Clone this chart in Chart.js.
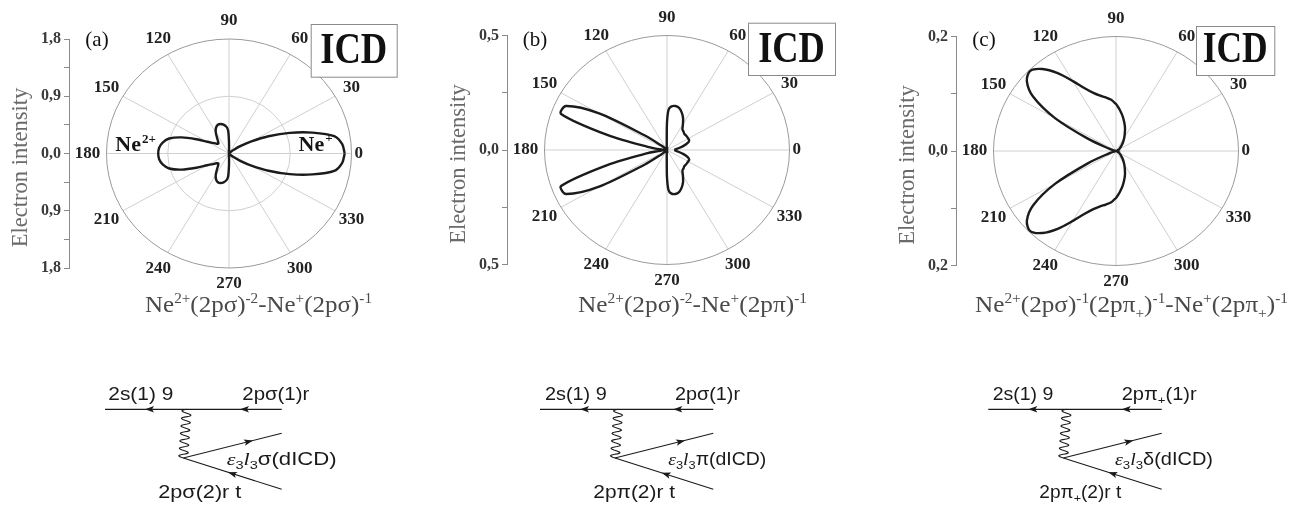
<!DOCTYPE html>
<html>
<head>
<meta charset="utf-8">
<script src="https://cdn.jsdelivr.net/npm/chart.js@4.4.1/dist/chart.umd.min.js"></script>
<style>
  html, body { margin: 0; padding: 0; background: #fff; }
  #wrap { position: relative; width: 1297px; height: 507px; overflow: hidden; background: #fff; }
  #wrap canvas { position: absolute; top: 0; }
  #art { position: absolute; left: 0; top: 0; pointer-events: none; }
</style>
</head>
<body>
<div id="wrap">
  <canvas id="pa" width="410" height="300" style="left:0px"></canvas>
  <canvas id="pb" width="410" height="300" style="left:438px"></canvas>
  <canvas id="pc" width="410" height="300" style="left:887px"></canvas>
  <svg id="art" width="1297" height="507" xmlns="http://www.w3.org/2000/svg"></svg>
</div>
<script>
// Emission angles (degrees) at which the angular distributions are tabulated
const angles = [
  0, 5, 10, 15, 20, 25, 30, 35, 40, 45, 50, 55, 60, 65, 70, 75, 80, 85,
  88, 90, 92,
  95, 100, 105, 110, 115, 120, 125, 130, 135, 140, 145, 150, 155, 160, 165, 170, 175, 180,
  185, 190, 195, 200, 205, 210, 215, 220, 225, 230, 235, 240, 245, 250, 255, 260, 265,
  268, 270, 272,
  275, 280, 285, 290, 295, 300, 305, 310, 315, 320, 325, 330, 335, 340, 345, 350, 355
];

// (a) Ne2+(2pσ)^-2 - Ne+(2pσ)^-1
const intensityA = [
  1.70, 1.67, 1.57, 1.27, 0.95, 0.64, 0.38, 0.20, 0.09, 0.04, 0.02, 0.01, 0, 0, 0, 0, 0, 0,
  0.01, 0.18, 0.36,
  0.42, 0.46, 0.48, 0.48, 0.45, 0.39, 0.31, 0.25, 0.22, 0.24, 0.29, 0.37, 0.53, 0.74, 0.91, 0.99, 1.03, 1.04,
  1.03, 0.99, 0.91, 0.74, 0.53, 0.37, 0.29, 0.24, 0.22, 0.25, 0.31, 0.39, 0.45, 0.48, 0.48, 0.46, 0.42,
  0.36, 0.18, 0.01,
  0, 0, 0, 0, 0, 0, 0.01, 0.02, 0.04, 0.09, 0.20, 0.38, 0.64, 0.95, 1.27, 1.57, 1.67
];

// (b) Ne2+(2pσ)^-2 - Ne+(2pπ)^-1
const intensityB = [
  0.03, 0.035, 0.05, 0.07, 0.09, 0.10, 0.10, 0.10, 0.10, 0.10, 0.105, 0.11, 0.13, 0.155, 0.175, 0.19, 0.195, 0.19,
  0.175, 0.12, 0.03,
  0.01, 0, 0, 0, 0, 0, 0, 0, 0.01, 0.03, 0.11, 0.32, 0.455, 0.46, 0.25, 0.08, 0.02, 0,
  0.02, 0.08, 0.25, 0.46, 0.455, 0.32, 0.11, 0.03, 0.01, 0, 0, 0, 0, 0, 0, 0, 0.01,
  0.03, 0.12, 0.175,
  0.19, 0.195, 0.19, 0.175, 0.155, 0.13, 0.11, 0.105, 0.10, 0.10, 0.10, 0.10, 0.10, 0.09, 0.07, 0.05, 0.035
];

// (c) Ne2+(2pσ)^-1(2pπ+)^-1 - Ne+(2pπ+)^-1
const intensityC = [
  0, 0, 0, 0.001, 0.002, 0.003, 0.005, 0.007, 0.009, 0.012, 0.016, 0.021, 0.027, 0.034, 0.043, 0.052, 0.062, 0.072,
  0.078, 0.082, 0.085,
  0.090, 0.095, 0.100, 0.108, 0.121, 0.141, 0.166, 0.187, 0.198, 0.190, 0.165, 0.115, 0.050, 0.012, 0.002, 0, 0, 0,
  0, 0, 0.002, 0.012, 0.050, 0.115, 0.165, 0.190, 0.198, 0.187, 0.166, 0.141, 0.121, 0.108, 0.100, 0.095, 0.090,
  0.085, 0.082, 0.078,
  0.072, 0.062, 0.052, 0.043, 0.034, 0.027, 0.021, 0.016, 0.012, 0.009, 0.007, 0.005, 0.003, 0.002, 0.001, 0, 0
];

// Axis ranges of the three panels and their tick spacing (labels on every second tick)
const axisMax   = [1.8, 0.5, 0.2];
const tickStep  = [0.45, 0.25, 0.1];
const innerRings = [[0.9], [], []];

// Polar angle tick labels
const angleTicks = [0, 30, 60, 90, 120, 150, 180, 210, 240, 270, 300, 330];

const panelTags = ['(a)', '(b)', '(c)'];
const boxTitle = 'ICD';

const SERIF = '"Liberation Serif", "Times New Roman", serif';
const SANS = '"Liberation Sans", Arial, sans-serif';

// Frame, grid and annotation layout for each panel
const panelLayout = [
  { canvas: 'pa', top: 39,   box: [310.7, 24, 86, 52.7], icdBase: 63.3, icdW: 67, ions: true },
  { canvas: 'pb', top: 35.5, box: [310, 22.7, 87, 52.3], icdBase: 61.7, icdW: 66.7, ions: false },
  { canvas: 'pc', top: 36.5, box: [309, 26, 78.3, 49],   icdBase: 61.7, icdW: 65, ions: false }
];

const CANVAS_H = 300, AXIS_W = 69, PLOT_H = 229, RIGHT_PAD = 58.5, GAP_FRAC = 37.5 / 122.5;

function toXY(rs) {
  const pts = angles.map((a, i) => {
    const t = a * Math.PI / 180;
    return { x: rs[i] * Math.cos(t), y: rs[i] * Math.sin(t) };
  });
  pts.push({ ...pts[0] });
  return pts;
}

const polarFrame = {
  id: 'polarFrame',
  beforeDatasetsDraw(chart, args, o) {
    const { ctx, scales: { x, y } } = chart;
    const cx = x.getPixelForValue(0), cy = y.getPixelForValue(0);
    const rx = x.getPixelForValue(o.limit) - cx, ry = cy - y.getPixelForValue(o.limit);
    ctx.save();
    ctx.lineWidth = 1;
    ctx.strokeStyle = '#cfcfcf';
    angleTicks.forEach(a => {
      const t = a * Math.PI / 180;
      ctx.beginPath();
      ctx.moveTo(cx, cy);
      ctx.lineTo(cx + rx * Math.cos(t), cy - ry * Math.sin(t));
      ctx.stroke();
    });
    o.rings.forEach(v => {
      const k = v / o.limit;
      ctx.beginPath();
      ctx.ellipse(cx, cy, rx * k, ry * k, 0, 0, Math.PI * 2);
      ctx.stroke();
    });
    ctx.strokeStyle = '#9a9a9a';
    ctx.beginPath();
    ctx.ellipse(cx, cy, rx, ry, 0, 0, Math.PI * 2);
    ctx.stroke();
    ctx.restore();
  },
  afterDraw(chart, args, o) {
    const { ctx, scales: { x, y } } = chart;
    const cx = x.getPixelForValue(0), cy = y.getPixelForValue(0);
    const rx = x.getPixelForValue(o.limit) - cx, ry = cy - y.getPixelForValue(o.limit);
    ctx.save();
    // angle labels
    ctx.fillStyle = '#222';
    ctx.font = 'bold 17px ' + SERIF;
    ctx.textBaseline = 'middle';
    angleTicks.forEach(a => {
      const t = a * Math.PI / 180;
      let px, py, align = 'center';
      if (a === 0) { px = cx + rx + 3; py = cy; align = 'left'; }
      else {
        px = cx + (rx + 19) * Math.cos(t);
        py = cy - (ry + 18) * Math.sin(t);
        if (a === 270) py = cy + ry + 16;
      }
      ctx.textAlign = align;
      ctx.fillText(String(a), px, py);
    });
    // panel tag
    ctx.font = '21px ' + SERIF;
    ctx.fillStyle = '#111';
    ctx.textAlign = 'center';
    ctx.fillText(o.tag, 97, 40);
    // axis title
    ctx.save();
    ctx.translate(21.5, cy + 14);
    ctx.rotate(-Math.PI / 2);
    ctx.font = '22.5px ' + SERIF;
    ctx.fillStyle = '#6b6b6b';
    ctx.textAlign = 'center';
    ctx.fillText('Electron intensity', 0, 0);
    ctx.restore();
    // ICD box
    const [bx, by, bw, bh] = o.box;
    ctx.fillStyle = '#fff';
    ctx.fillRect(bx, by, bw, bh);
    ctx.strokeStyle = '#8a8a8a';
    ctx.lineWidth = 1;
    ctx.strokeRect(bx + 0.5, by + 0.5, bw, bh);
    ctx.font = 'bold 45px ' + SERIF;
    ctx.fillStyle = '#111';
    ctx.textBaseline = 'alphabetic';
    const w = ctx.measureText(boxTitle).width;
    ctx.save();
    ctx.translate(bx + bw / 2, o.icdBase);
    ctx.scale(o.icdW / w, 1);
    ctx.textAlign = 'center';
    ctx.fillText(boxTitle, 0, 0);
    ctx.restore();
    // ion labels
    if (o.ions) {
      ctx.fillStyle = '#151515';
      ctx.textAlign = 'left';
      ctx.font = 'bold 22px ' + SERIF;
      let x0 = cx - 113.7;
      ctx.fillText('Ne', x0, cy - 2.6);
      let nw = ctx.measureText('Ne').width;
      ctx.font = 'bold 13px ' + SERIF;
      ctx.fillText('2+', x0 + nw + 1, cy - 10.5);
      x0 = cx + 69.6;
      ctx.font = 'bold 22px ' + SERIF;
      ctx.fillText('Ne', x0, cy - 2.6);
      nw = ctx.measureText('Ne').width;
      ctx.font = 'bold 13px ' + SERIF;
      ctx.fillText('+', x0 + nw + 1, cy - 11.5);
    }
    ctx.restore();
  }
};

const curves = [intensityA, intensityB, intensityC];

panelLayout.forEach((p, i) => {
  const R = axisMax[i], step = tickStep[i];
  new Chart(document.getElementById(p.canvas), {
    type: 'scatter',
    data: {
      datasets: [{
        data: toXY(curves[i]),
        showLine: true,
        borderColor: '#1b1b1b',
        borderWidth: 2.4,
        pointRadius: 0,
        tension: 0.3,
        fill: false
      }]
    },
    options: {
      responsive: false,
      animation: false,
      devicePixelRatio: 1,
      events: [],
      layout: { padding: { top: p.top, bottom: CANVAS_H - p.top - PLOT_H, left: 0, right: RIGHT_PAD } },
      plugins: {
        legend: { display: false },
        tooltip: { enabled: false },
        polarFrame: { limit: R, rings: innerRings[i], tag: panelTags[i], box: p.box, icdBase: p.icdBase, icdW: p.icdW, ions: p.ions }
      },
      scales: {
        x: { type: 'linear', display: false, min: -R * (1 + GAP_FRAC), max: R },
        y: {
          type: 'linear', position: 'left', min: -R, max: R,
          afterFit(axis) { axis.width = AXIS_W; },
          grid: { drawOnChartArea: false, drawTicks: true, tickLength: 5, color: '#8a8a8a' },
          border: { display: true, color: '#8a8a8a', width: 1 },
          ticks: {
            stepSize: step, autoSkip: false, padding: 3,
            color: '#3a3a3a',
            font: { family: SERIF, size: 16, weight: 'bold' },
            callback(v) {
              const k = Math.round(v / step);
              if (k % 2 !== 0) return '';
              return Math.abs(v).toFixed(1).replace('.', ',');
            }
          }
        }
      }
    },
    plugins: [polarFrame]
  });
});

// ---- SVG: channel formulas and the ICD diagrams ----
function rich(src, base, small, up, down) {
  let out = '', shift = 0, m;
  const re = /([\^_*])\{([^}]*)\}|([^\^_*]+)/g;
  while ((m = re.exec(src))) {
    if (m[3] !== undefined) {
      out += `<tspan dy="${-shift}" font-size="${base}">${m[3]}</tspan>`; shift = 0;
    } else if (m[1] === '*') {
      out += `<tspan dy="${-shift}" font-size="${base}" font-style="italic" font-family='${SERIF}'>${m[2]}</tspan>`; shift = 0;
    } else {
      const d = m[1] === '^' ? -up : down;
      out += `<tspan dy="${d - shift}" font-size="${small}">${m[2]}</tspan>`; shift = d;
    }
  }
  return out;
}

const formulas = [
  { x: 145, w: 227, s: 'Ne^{2+}(2pσ)^{-2}-Ne^{+}(2pσ)^{-1}' },
  { x: 578, w: 229, s: 'Ne^{2+}(2pσ)^{-2}-Ne^{+}(2pπ)^{-1}' },
  { x: 975, w: 313, s: 'Ne^{2+}(2pσ)^{-1}(2pπ_{+})^{-1}-Ne^{+}(2pπ_{+})^{-1}' }
];

const diagrams = [
  { x0: 105, x1: 281.7, wave: 186.7, vx: 183.3, top: [145, 240], outA: 253, inA: 228,
    labels: [
      { x: 108.3, y: 400, w: 65, s: '2s(1) 9' },
      { x: 242.3, y: 400, w: 67, s: '2pσ(1)r' },
      { x: 226.7, y: 465, w: 110, s: '*{ε}_{3}*{l}_{3}σ(dICD)' },
      { x: 158.3, y: 498, w: 83, s: '2pσ(2)r t' } ] },
  { x0: 540, x1: 713.3, wave: 618.3, vx: 615, top: [580, 673.3], outA: 685, inA: 661.7,
    labels: [
      { x: 545, y: 400, w: 61.7, s: '2s(1) 9' },
      { x: 675, y: 400, w: 65, s: '2pσ(1)r' },
      { x: 668.3, y: 465, w: 98, s: '*{ε}_{3}*{l}_{3}π(dICD)' },
      { x: 593.3, y: 498, w: 81.7, s: '2pπ(2)r t' } ] },
  { x0: 988.3, x1: 1161.7, wave: 1066.7, vx: 1063.3, top: [1028.3, 1121.7], outA: 1133.3, inA: 1108.3,
    labels: [
      { x: 992.7, y: 400, w: 60.7, s: '2s(1) 9' },
      { x: 1121.7, y: 400, w: 75, s: '2pπ_{+}(1)r' },
      { x: 1115, y: 465, w: 98, s: '*{ε}_{3}*{l}_{3}δ(dICD)' },
      { x: 1039.3, y: 498, w: 82, s: '2pπ_{+}(2)r t' } ] }
];

const LINE_Y = 409.3, VY = 458, OUT_Y = 433.3, IN_Y = 489.3, INK = '#1a1a1a';

function arrow(tx, ty, dx, dy) {
  const L = Math.hypot(dx, dy), ux = dx / L, uy = dy / L, len = 9, hw = 3.2;
  const bx = tx - ux * len, by = ty - uy * len;
  return `<path d="M${tx},${ty} L${bx - uy * hw},${by + ux * hw} L${bx + ux * 2},${by + uy * 2} L${bx + uy * hw},${by - ux * hw} Z" fill="${INK}"/>`;
}

let svg = '';
formulas.forEach(f => {
  svg += `<text x="${f.x}" y="311.7" font-family='${SERIF}' fill="#4a4a4a" textLength="${f.w}" lengthAdjust="spacingAndGlyphs">${rich(f.s, 23, 14, 9, 6)}</text>`;
});

diagrams.forEach(d => {
  svg += `<line x1="${d.x0}" y1="${LINE_Y}" x2="${d.x1}" y2="${LINE_Y}" stroke="${INK}" stroke-width="1.3"/>`;
  d.top.forEach(ax => { svg += arrow(ax, LINE_Y, -1, 0); });
  // photon-like wavy line from the upper line down to the vertex
  const n = 80, waves = 6.5, amp = 4.6;
  const sx = d.wave, sy = LINE_Y, ex = d.vx, ey = VY;
  const L = Math.hypot(ex - sx, ey - sy), ux = (ex - sx) / L, uy = (ey - sy) / L;
  let pth = '';
  for (let k = 0; k <= n; k++) {
    const t = k / n, off = amp * Math.sin(t * waves * 2 * Math.PI);
    const px = sx + (ex - sx) * t - uy * off, py = sy + (ey - sy) * t + ux * off;
    pth += (k ? 'L' : 'M') + px.toFixed(2) + ',' + py.toFixed(2);
  }
  svg += `<path d="${pth}" fill="none" stroke="${INK}" stroke-width="1.1"/>`;
  // outgoing and incoming legs
  svg += `<line x1="${d.vx}" y1="${VY}" x2="${d.x1}" y2="${OUT_Y}" stroke="${INK}" stroke-width="1.1"/>`;
  svg += `<line x1="${d.vx}" y1="${VY}" x2="${d.x1}" y2="${IN_Y}" stroke="${INK}" stroke-width="1.1"/>`;
  const so = (OUT_Y - VY) / (d.x1 - d.vx), si = (IN_Y - VY) / (d.x1 - d.vx);
  svg += arrow(d.outA, VY + so * (d.outA - d.vx), 1, so);
  svg += arrow(d.inA, VY + si * (d.inA - d.vx), -1, -si);
  d.labels.forEach(l => {
    svg += `<text x="${l.x}" y="${l.y}" font-family='${SANS}' fill="${INK}" textLength="${l.w}" lengthAdjust="spacingAndGlyphs">${rich(l.s, 17.5, 11.5, 7, 4)}</text>`;
  });
});
document.getElementById('art').innerHTML = svg;
</script>
</body>
</html>
